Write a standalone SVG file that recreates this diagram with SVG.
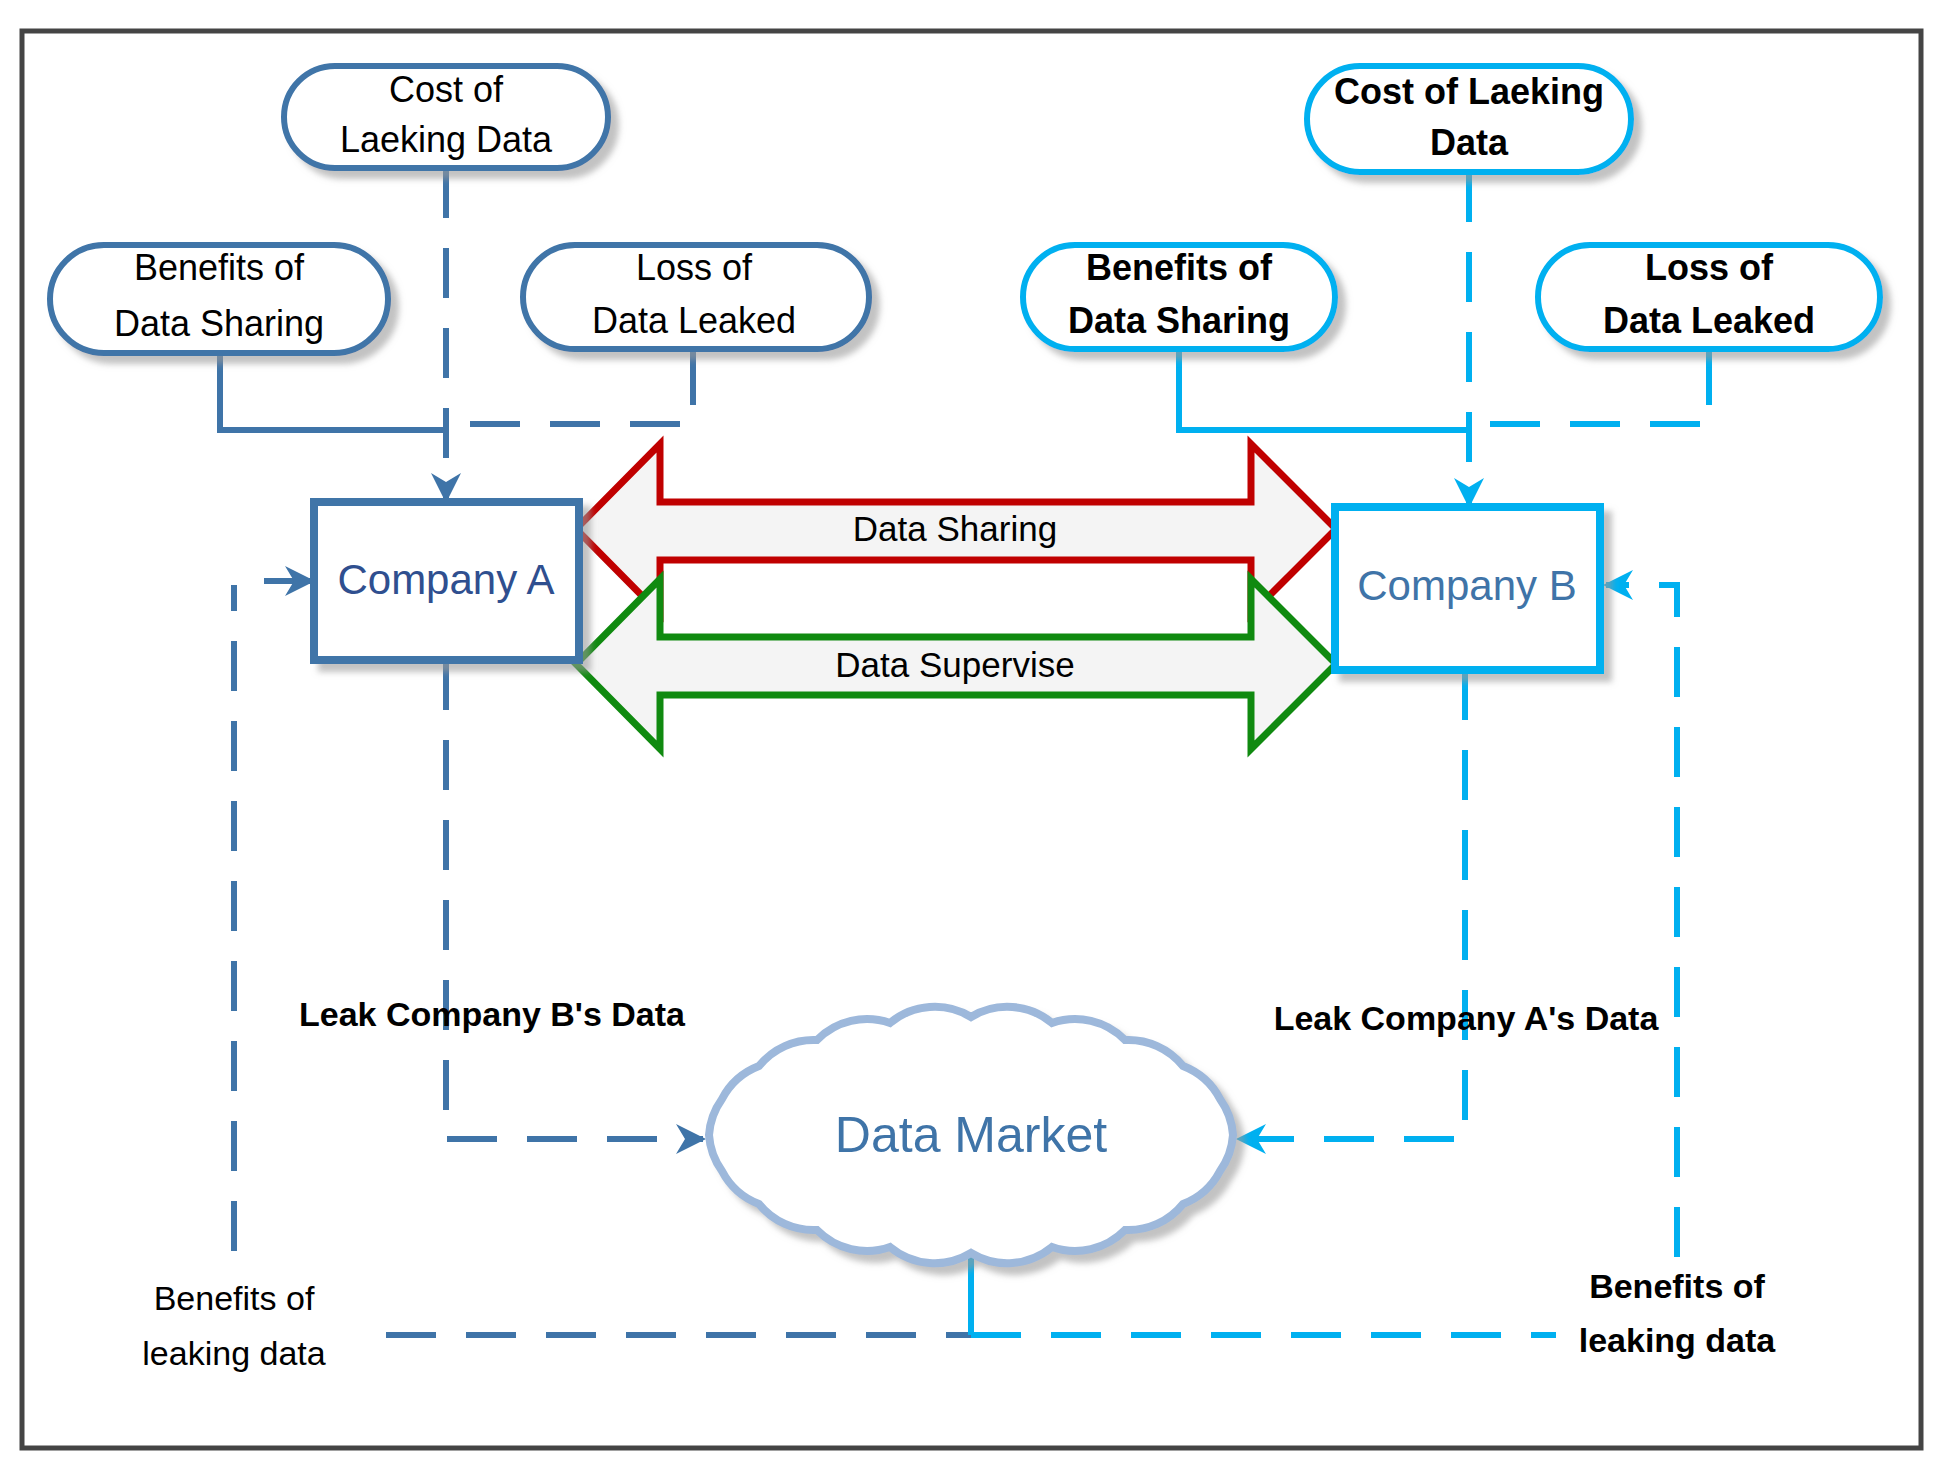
<svg xmlns="http://www.w3.org/2000/svg" width="1942" height="1483" viewBox="0 0 1942 1483">
<style>
.t{font-family:"Liberation Sans","DejaVu Sans",sans-serif;fill:#000;text-anchor:middle}
.pill{font-size:36px}
.pa{fill:#fff;stroke:#3f74a8;stroke-width:6}
.pb{fill:#fff;stroke:#00b0f0;stroke-width:6}
.da{stroke:#3f74a8;stroke-width:6;fill:none;stroke-dasharray:50 30}
.sa{stroke:#3f74a8;stroke-width:6;fill:none}
.db{stroke:#00b0f0;stroke-width:6;fill:none;stroke-dasharray:50 30}
.sb{stroke:#00b0f0;stroke-width:6;fill:none}
</style>
<defs>
<filter id="sh" x="-10%" y="-10%" width="130%" height="140%"><feDropShadow dx="8" dy="8" stdDeviation="3" flood-color="#999" flood-opacity="0.6"/></filter>
<marker id="ma" viewBox="0 0 10 10" refX="9" refY="5" markerWidth="5" markerHeight="5" orient="auto"><path d="M0,0 L10,5 L0,10 L3,5 Z" fill="#3f74a8"/></marker>
<marker id="mb" viewBox="0 0 10 10" refX="9" refY="5" markerWidth="5" markerHeight="5" orient="auto"><path d="M0,0 L10,5 L0,10 L3,5 Z" fill="#00b0f0"/></marker>
</defs>
<rect x="22" y="31" width="1899" height="1417" fill="#fff" stroke="#444" stroke-width="5"/>

<g id="connectors">
<path class="da" d="M446,168 V500" marker-end="url(#ma)"/>
<path class="sa" d="M220,355 V430 H446"/>
<path class="sa" d="M693,349 V405"/>
<path class="da" d="M680,424 H446"/>
<path class="da" d="M446,660 V1139 H703" marker-end="url(#ma)"/>
<path class="da" d="M234,1251 V585"/>
<path class="sa" d="M264,581 H312" marker-end="url(#ma)"/>
<path class="da" d="M386,1335 H971"/>
<path class="db" d="M971,1335 H1556"/>
<path class="sb" d="M971,1257 V1335"/>
<path class="db" d="M1465,670 V1139 H1239" marker-end="url(#mb)"/>
<path class="db" d="M1677,1257 V585 H1606" marker-end="url(#mb)"/>
<path class="db" d="M1469,172 V505" marker-end="url(#mb)"/>
<path class="sb" d="M1179,349 V430 H1469"/>
<path class="sb" d="M1709,349 V405"/>
<path class="db" d="M1700,424 H1469"/>
</g>

<g id="arrow-sharing">
<path d="M576,529 L660,444 V502 H1251 V444 L1336,529 L1251,614 V560 H660 V614 Z" fill="#f4f4f4" stroke="#c00000" stroke-width="7" stroke-linejoin="miter"/>
<text class="t" x="955" y="541" font-size="35">Data Sharing</text>
</g>
<g id="arrow-supervise">
<path d="M576,664 L660,579 V637 H1251 V579 L1336,664 L1251,749 V695 H660 V749 Z" fill="#f4f4f4" stroke="#108a10" stroke-width="7"/>
<text class="t" x="955" y="677" font-size="35">Data Supervise</text>
</g>

<g id="cost-a"><rect class="pa" x="284" y="66" width="324" height="102" rx="51" filter="url(#sh)"/>
<text class="t pill" x="446" y="102">Cost of</text><text class="t pill" x="446" y="152">Laeking Data</text></g>
<g id="benefits-a"><rect class="pa" x="50" y="245" width="338" height="108" rx="54" filter="url(#sh)"/>
<text class="t pill" x="219" y="280">Benefits of</text><text class="t pill" x="219" y="336">Data Sharing</text></g>
<g id="loss-a"><rect class="pa" x="523" y="245" width="346" height="104" rx="52" filter="url(#sh)"/>
<text class="t pill" x="694" y="280">Loss of</text><text class="t pill" x="694" y="333">Data Leaked</text></g>
<g id="company-a"><rect x="314" y="502" width="265" height="158" fill="#fff" stroke="#3f74a8" stroke-width="8" filter="url(#sh)"/>
<text class="t" x="446" y="594" font-size="42" style="fill:#2f4f8f">Company A</text></g>

<g id="cost-b"><rect class="pb" x="1307" y="66" width="324" height="106" rx="53" filter="url(#sh)"/>
<text class="t pill" x="1469" y="104" font-weight="bold">Cost of Laeking</text><text class="t pill" x="1469" y="155" font-weight="bold">Data</text></g>
<g id="benefits-b"><rect class="pb" x="1023" y="245" width="312" height="104" rx="52" filter="url(#sh)"/>
<text class="t pill" x="1179" y="280" font-weight="bold">Benefits of</text><text class="t pill" x="1179" y="333" font-weight="bold">Data Sharing</text></g>
<g id="loss-b"><rect class="pb" x="1538" y="245" width="342" height="104" rx="52" filter="url(#sh)"/>
<text class="t pill" x="1709" y="280" font-weight="bold">Loss of</text><text class="t pill" x="1709" y="333" font-weight="bold">Data Leaked</text></g>
<g id="company-b"><rect x="1335" y="507" width="265" height="163" fill="#fff" stroke="#00b0f0" stroke-width="8" filter="url(#sh)"/>
<text class="t" x="1467" y="600" font-size="42" style="fill:#3f74a8">Company B</text></g>

<g id="data-market">
<path filter="url(#sh)" fill="#fff" stroke="#9db8db" stroke-width="8" d="M1233,1135 A70,70 0 0 1 1220,1171 A70,70 0 0 1 1183,1204 A70,70 0 0 1 1125,1230 A70,70 0 0 1 1052,1247 A70,70 0 0 1 971,1253 A70,70 0 0 1 890,1247 A70,70 0 0 1 817,1230 A70,70 0 0 1 759,1204 A70,70 0 0 1 722,1171 A70,70 0 0 1 709,1135 A70,70 0 0 1 722,1099 A70,70 0 0 1 759,1066 A70,70 0 0 1 817,1040 A70,70 0 0 1 890,1023 A70,70 0 0 1 971,1017 A70,70 0 0 1 1052,1023 A70,70 0 0 1 1125,1040 A70,70 0 0 1 1183,1066 A70,70 0 0 1 1220,1099 A70,70 0 0 1 1233,1135 Z"/>
<text class="t" x="971" y="1152" font-size="50" style="fill:#3f74a8">Data Market</text>
</g>

<g id="labels">
<text class="t" x="492" y="1026" font-size="34" font-weight="bold">Leak Company B's Data</text>
<text class="t" x="1466" y="1030" font-size="34" font-weight="bold">Leak  Company A's Data</text>
<text class="t" x="234" y="1310" font-size="34">Benefits of</text>
<text class="t" x="234" y="1365" font-size="34">leaking data</text>
<text class="t" x="1677" y="1298" font-size="34" font-weight="bold">Benefits of</text>
<text class="t" x="1677" y="1352" font-size="34" font-weight="bold">leaking data</text>
</g>
</svg>
